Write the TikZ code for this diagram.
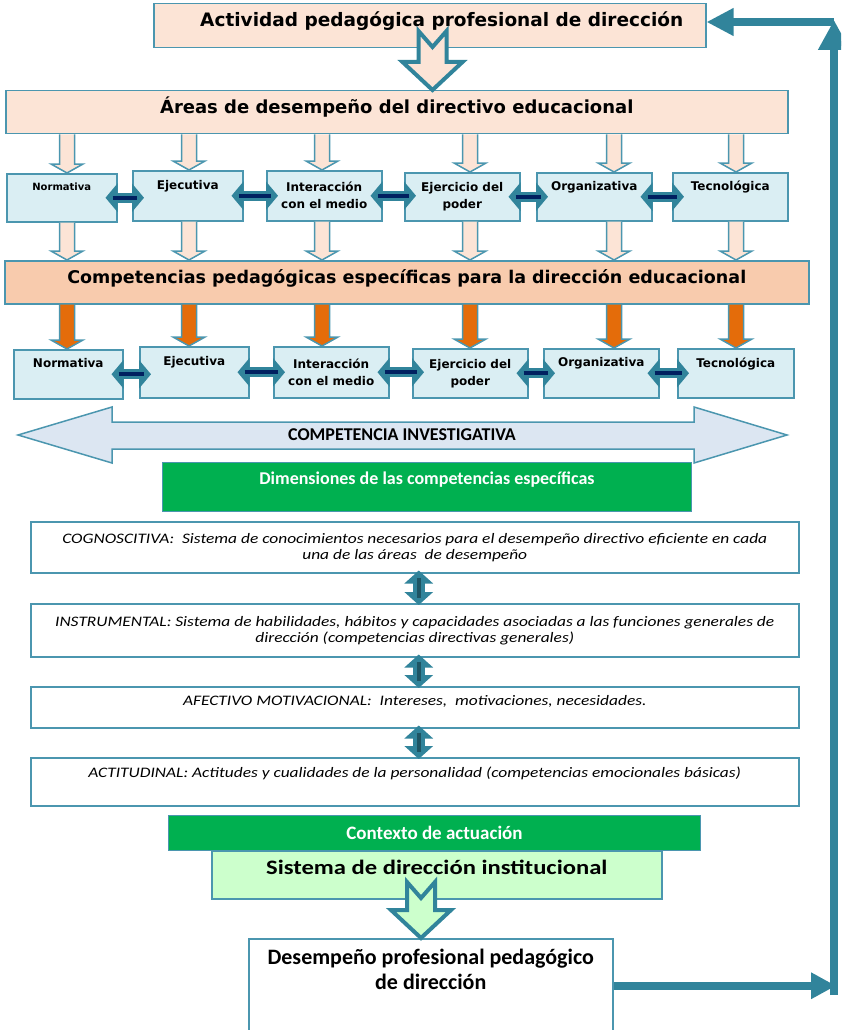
\documentclass[tikz,border=0pt]{standalone}
\usepackage{fontspec}
\setmainfont{Carlito}
\newfontfamily\verd{DejaVu Sans}
\newfontfamily\calw[FakeStretch=1.2]{Carlito}
\usetikzlibrary{arrows.meta, positioning, calc}

\definecolor{peach}{RGB}{252, 228, 214}
\definecolor{peachdark}{RGB}{248, 203, 173}
\definecolor{bordteal}{RGB}{75, 150, 175}
\definecolor{arrteal}{RGB}{49, 132, 155}
\definecolor{paleblue}{RGB}{218, 238, 243}
\definecolor{orange1}{RGB}{228, 108, 10}
\definecolor{navy1}{RGB}{0, 32, 96}
\definecolor{darkteal}{RGB}{30, 85, 100}
\definecolor{greyblue}{RGB}{220, 230, 242}
\definecolor{green1}{RGB}{0, 176, 80}
\definecolor{palegreen}{RGB}{204, 255, 204}

\tikzset{
  box/.style={draw=bordteal, line width=1.5pt, inner sep=0pt, anchor=north west, align=center},
  areabox/.style={box, fill=paleblue, font=\verd\bfseries\fontsize{12}{17}\selectfont},
  dimbox/.style={box, fill=white, font=\calw\itshape\fontsize{14.5}{16}\selectfont},
  thinarr/.style={draw=bordteal, line width=1.5pt},
  sidearr/.style={arrteal, line width=10pt, {Triangle[length=12pt,width=28pt]}-{Triangle[length=12pt,width=28pt]}},
  updown/.style={arrteal, line width=12pt, {Triangle[length=13pt,width=28pt]}-{Triangle[length=13pt,width=28pt]}},
  backarr/.style={arrteal, line width=8pt, -{Triangle[length=27pt,width=26pt]}},
}

% hollow arrow with a notch at its tail
\newcommand{\notcharrow}[3]{%
  \draw[draw=arrteal, line width=4pt, fill=#1]
    ($#2+(-14,0)$) -- ($#3+(-14,-28)$) -- ($#3+(-30,-28)$) -- #3
    -- ($#3+(30,-28)$) -- ($#3+(14,-28)$) -- ($#2+(14,0)$) -- ($#2+(0,16)$) -- cycle;
}
% small block arrow, box to box
\newcommand{\smallarrow}[3]{%
  \draw[thinarr, fill=#1]
    ($#2+(-7.5,0)$) -- ($#3+(-7.5,-9)$) -- ($#3+(-16,-9)$) -- #3
    -- ($#3+(16,-9)$) -- ($#3+(7.5,-9)$) -- ($#2+(7.5,0)$);
}
% two-way arrow between neighbouring boxes
\newcommand{\linkarrow}[2]{%
  \draw[sidearr] ($(#1.east)+(-12,0)$) -- ($(#2.west |- #1.east)+(12,0)$);
  \draw[navy1, line width=4pt] ($(#1.east)+(-5,0)$) -- ($(#2.west |- #1.east)+(5,0)$);
}
% two-way arrow between stacked boxes
\newcommand{\dimlink}[2]{%
  \draw[updown] ($(#1.south)+(4,-3)$) -- ($(#2.north)+(4,2)$);
  \draw[darkteal, line width=4pt] ($(#1.south)+(4,4)$) -- ($(#2.north)+(4,-5)$);
}

\begin{document}
\begin{tikzpicture}[x=1pt, y=-1pt]
  \useasboundingbox (0,0) rectangle (841,1030);
  \clip (0,0) rectangle (841,1030);

  % Top and areas
  \node[box, fill=peach, minimum width=552pt, minimum height=44pt, text depth=14pt,
        font=\verd\bfseries\fontsize{18.5}{22}\selectfont] (act) at (153,3) {\hspace*{24pt}Actividad pedagógica profesional de dirección};
  \node[box, fill=peach, minimum width=782pt, minimum height=43pt, text depth=15pt,
        font=\verd\bfseries\fontsize{18}{22}\selectfont] (areas) at (5,90) {Áreas de desempeño del directivo educacional};

  % First row of areas
  \node[areabox, minimum width=110pt, minimum height=48pt, font=\verd\bfseries\fontsize{10}{17}\selectfont] (r1a) at (6,173) {Normativa\\\strut};
  \node[areabox, minimum width=110pt, minimum height=50pt] (r1b) at (132,170) {Ejecutiva\\\strut};
  \node[areabox, minimum width=115pt, minimum height=50pt] (r1c) at (266,170) {Interacción\\con el medio};
  \node[areabox, minimum width=115pt, minimum height=48pt] (r1d) at (404,172) {Ejercicio del\\poder};
  \node[areabox, minimum width=115pt, minimum height=48pt] (r1e) at (536,172) {Organizativa\\\strut};
  \node[areabox, minimum width=115pt, minimum height=48pt] (r1f) at (672,172) {Tecnológica\\\strut};

  % Competencias
  \node[box, fill=peachdark, minimum width=804pt, minimum height=43pt, text depth=11pt,
        font=\verd\bfseries\fontsize{17.5}{22}\selectfont] (comp) at (4,260) {Competencias pedagógicas específicas para la dirección educacional};

  % Second row of competencias
  \node[areabox, minimum width=109pt, minimum height=49pt] (r2a) at (13,349) {Normativa\\\strut};
  \node[areabox, minimum width=109pt, minimum height=51pt] (r2b) at (139,346) {Ejecutiva\\\strut};
  \node[areabox, minimum width=115pt, minimum height=51pt] (r2c) at (273,346) {Interacción\\con el medio};
  \node[areabox, minimum width=115pt, minimum height=49pt] (r2d) at (412,348) {Ejercicio del\\poder};
  \node[areabox, minimum width=115pt, minimum height=49pt] (r2e) at (543,348) {Organizativa\\\strut};
  \node[areabox, minimum width=116pt, minimum height=49pt] (r2f) at (677,348) {Tecnológica\\\strut};

  % Competencia investigativa
  \draw[draw=bordteal, line width=1.5pt, fill=greyblue]
    (18,435) -- (112,407) -- (112,422) -- (694,422) -- (694,407) -- (787,435)
    -- (694,463) -- (694,449) -- (112,449) -- (112,463) -- cycle;
  \node[font=\bfseries\fontsize{18}{20}\selectfont] (inv) at (402,435) {COMPETENCIA INVESTIGATIVA};

  % Dimensions
  \node[box, draw=bordteal, line width=1pt, fill=green1, text=white, minimum width=529pt, minimum height=49pt, text depth=17pt,
        font=\bfseries\fontsize{18}{22}\selectfont] (dims) at (162,462) {Dimensiones de las competencias específicas};
  \node[dimbox, minimum width=768pt, minimum height=51pt] (cog) at (30,521)
    {COGNOSCITIVA:\ \ Sistema de conocimientos necesarios para el desempeño directivo eficiente en cada\\una de las áreas\ \ de desempeño};
  \node[dimbox, minimum width=768pt, minimum height=53pt] (ins) at (30,603)
    {INSTRUMENTAL: Sistema de habilidades, hábitos y capacidades asociadas a las funciones generales de\\dirección (competencias directivas generales)};
  \node[dimbox, minimum width=768pt, minimum height=41pt, text depth=13pt] (afe) at (30,686)
    {AFECTIVO MOTIVACIONAL:\ \ Intereses,\ \ motivaciones, necesidades.};
  \node[dimbox, minimum width=768pt, minimum height=48pt, text depth=20pt] (acti) at (30,757)
    {ACTITUDINAL: Actitudes y cualidades de la personalidad (competencias emocionales básicas)};

  % Context and result
  \node[box, draw=bordteal, line width=1pt, fill=green1, text=white, minimum width=532pt, minimum height=35pt,
        font=\bfseries\fontsize{19}{22}\selectfont] (ctx) at (168,815) {Contexto de actuación};
  \node[box, fill=palegreen, minimum width=450pt, minimum height=48pt, text depth=14pt,
        font=\calw\bfseries\fontsize{20.5}{24}\selectfont] (sys) at (211,850) {Sistema de dirección institucional};
  \node[box, fill=white, minimum width=364pt, minimum height=94pt,
        font=\bfseries\fontsize{22}{25}\selectfont] (des) at (248,938) {Desempeño profesional pedagógico\\de dirección\\\strut};

  % Big notched arrows
  \coordinate (t1) at (432.5,31);
  \coordinate (t2) at (421,882);
  \notcharrow{peach}{(t1)}{(areas.north -| t1)}
  \notcharrow{palegreen}{(t2)}{(des.north -| t2)}

  % Column positions of the small arrows
  \coordinate (k1) at (67,0);
  \coordinate (k2) at (189,0);
  \coordinate (k3) at (322,0);
  \coordinate (k4) at (470,0);
  \coordinate (k5) at (614,0);
  \coordinate (k6) at (736,0);

  % Areas -> first row
  \smallarrow{peach}{(areas.south -| k1)}{(r1a.north -| k1)}
  \smallarrow{peach}{(areas.south -| k2)}{(r1b.north -| k2)}
  \smallarrow{peach}{(areas.south -| k3)}{(r1c.north -| k3)}
  \smallarrow{peach}{(areas.south -| k4)}{(r1d.north -| k4)}
  \smallarrow{peach}{(areas.south -| k5)}{(r1e.north -| k5)}
  \smallarrow{peach}{(areas.south -| k6)}{(r1f.north -| k6)}

  % First row -> competencias
  \smallarrow{peach}{(r1a.south -| k1)}{(comp.north -| k1)}
  \smallarrow{peach}{(r1b.south -| k2)}{(comp.north -| k2)}
  \smallarrow{peach}{(r1c.south -| k3)}{(comp.north -| k3)}
  \smallarrow{peach}{(r1d.south -| k4)}{(comp.north -| k4)}
  \smallarrow{peach}{(r1e.south -| k5)}{(comp.north -| k5)}
  \smallarrow{peach}{(r1f.south -| k6)}{(comp.north -| k6)}

  % Competencias -> second row
  \smallarrow{orange1}{(comp.south -| k1)}{(r2a.north -| k1)}
  \smallarrow{orange1}{(comp.south -| k2)}{(r2b.north -| k2)}
  \smallarrow{orange1}{(comp.south -| k3)}{(r2c.north -| k3)}
  \smallarrow{orange1}{(comp.south -| k4)}{(r2d.north -| k4)}
  \smallarrow{orange1}{(comp.south -| k5)}{(r2e.north -| k5)}
  \smallarrow{orange1}{(comp.south -| k6)}{(r2f.north -| k6)}

  % Links inside the rows
  \linkarrow{r1a}{r1b}
  \linkarrow{r1b}{r1c}
  \linkarrow{r1c}{r1d}
  \linkarrow{r1d}{r1e}
  \linkarrow{r1e}{r1f}
  \linkarrow{r2a}{r2b}
  \linkarrow{r2b}{r2c}
  \linkarrow{r2c}{r2d}
  \linkarrow{r2d}{r2e}
  \linkarrow{r2e}{r2f}

  % Links between the dimensions
  \dimlink{cog}{ins}
  \dimlink{ins}{afe}
  \dimlink{afe}{acti}

  % Feedback loop
  \coordinate (cbr) at (834,995);
  \coordinate (ctr) at (834,22);
  \draw[backarr, -{Triangle[length=25pt,width=25pt]}] (des.east) -- ($(des.east -| cbr)+(2,0)$);
  \draw[backarr, -{Triangle[length=30pt,width=30pt]}] (cbr) -- ($(ctr)+(0,-2)$);
  \draw[backarr] (ctr) -- (ctr -| act.east);
\end{tikzpicture}
\end{document}
